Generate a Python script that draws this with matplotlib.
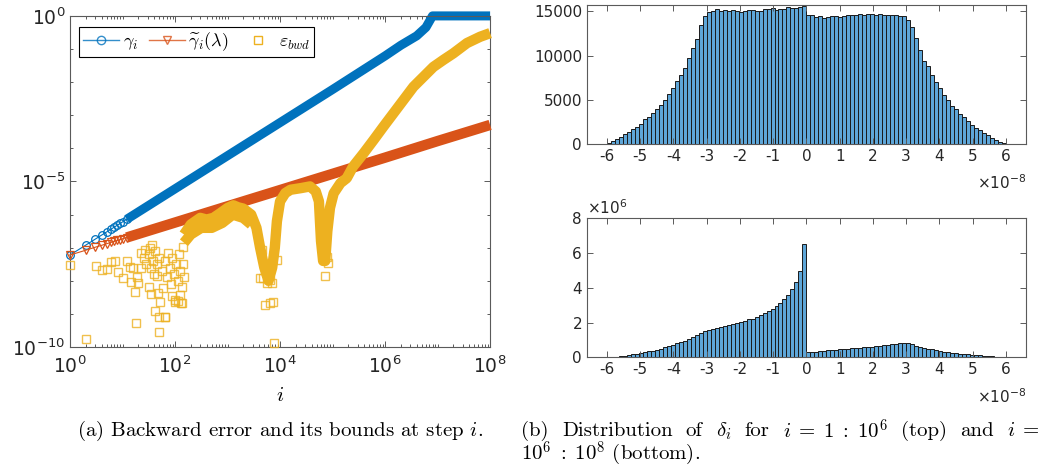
"""
Backward error bounds (left) and distribution of delta_i (right).
"""

import numpy as np
import matplotlib

matplotlib.use("Agg")
import matplotlib.pyplot as plt
from matplotlib.lines import Line2D
from matplotlib.ticker import FixedLocator, FuncFormatter, LogLocator, NullFormatter

plt.rcParams["font.family"] = ["DejaVu Sans"]
plt.rcParams["mathtext.fontset"] = "cm"
plt.rcParams["axes.unicode_minus"] = False

BLUE = "#0072BD"
RED = "#D95319"
YELLOW = "#EDB120"
HIST_FACE = "#5EA6D8"
TEXT = "#262626"
SPINE = "#5a5a5a"

# ---- left panel: gamma_i, gamma~_i(lambda), eps_bwd -----------------------
gamma_i_low = [1, 2, 3, 4, 5, 6, 7, 8, 9, 10, 12]
gamma_low = [6.0e-8, 1.2e-7, 1.8e-7, 2.4e-7, 3.0e-7, 3.6e-7, 4.2e-7, 4.8e-7,
             5.4e-7, 6.0e-7, 7.2e-7]
gamma_i_band = [12, 1e2, 1e3, 1e4, 1e5, 1e6, 2e6, 4e6, 6e6, 8e6, 1e8]
gamma_band = [7.2e-7, 6.0e-6, 6.0e-5, 6.0e-4, 6.0e-3, 0.062, 0.13, 0.25, 0.45, 1.0, 1.0]

gtil_i_low = [1, 2, 3, 4, 5, 6, 7, 8, 9, 10, 12]
gtil_low = [6.0e-8, 8.4e-8, 1.03e-7, 1.18e-7, 1.32e-7, 1.44e-7, 1.55e-7, 1.66e-7,
            1.76e-7, 1.86e-7, 2.03e-7]
gtil_i_band = [12, 1e2, 1e3, 1e4, 1e5, 1e6, 1e7, 1e8]
gtil_band = [2.03e-7, 5.75e-7, 1.78e-6, 5.5e-6, 1.7e-5, 5.25e-5, 1.66e-4, 5.1e-4]

# scattered eps_bwd squares (log10 i, log10 eps)
eps_pts_logi = [0.0, 0.3, 0.49, 0.6, 0.7, 0.79, 0.85, 0.92, 1.0, 1.08, 1.14, 1.16,
                1.2, 1.25, 1.23, 1.3, 1.36, 1.43, 1.52, 1.68, 1.7, 1.72, 1.81, 1.78,
                1.87, 2.0, 2.09, 2.12, 2.16, 1.4, 1.45, 1.5, 1.55, 1.58, 1.6, 1.62,
                1.65, 1.7, 1.75, 1.8, 1.85, 1.9, 1.93, 1.95, 1.98, 2.02, 2.05, 2.08,
                2.1, 2.13, 2.15, 2.18, 1.55, 1.62, 1.5, 1.35, 1.28, 1.95, 2.05, 1.56,
                1.65, 1.7, 1.81, 2.0, 2.13,
                3.65, 3.68, 3.75, 3.81, 3.84, 3.71, 3.81, 3.87, 3.89, 3.62, 3.94,
                4.86, 4.92, 4.83, 4.89]
eps_pts_logy = [-7.52, -9.76, -7.54, -7.67, -7.64, -7.42, -7.40, -7.72, -7.92, -7.40,
                -7.57, -8.03, -7.62, -9.28, -8.35, -8.08, -7.17, -7.07, -7.02, -8.38,
                -9.56, -8.63, -9.08, -8.23, -7.17, -8.63, -8.43, -8.66, -6.97, -7.3,
                -7.5, -7.2, -7.6, -7.4, -7.8, -7.1, -7.5, -7.3, -7.7, -7.4, -7.9,
                -7.6, -8.1, -7.3, -7.8, -7.5, -8.0, -7.2, -7.7, -8.2, -7.5, -7.9,
                -8.4, -8.9, -8.2, -7.6, -7.9, -8.45, -8.6, -6.92, -7.87, -9.08,
                -9.08, -8.58, -8.68,
                -7.07, -7.92, -8.08, -7.98, -8.08, -8.73, -8.68, -8.63, -9.89, -7.92,
                -7.37, -7.87, -7.47, -6.97, -7.27]

# dense part of eps_bwd, upper edge (log10 i, log10 eps)
eps_band_logi = [2.17, 2.3, 2.48, 2.6, 2.73, 2.86, 3.0, 3.11, 3.2, 3.3, 3.45, 3.55,
                 3.62, 3.7, 3.78, 3.85, 3.9, 3.94, 4.0, 4.1, 4.2, 4.4, 4.57, 4.68,
                 4.74, 4.78, 4.82, 4.86, 4.9, 4.95, 5.02, 5.15, 5.27, 5.39, 5.59,
                 5.78, 5.97, 6.16, 6.35, 6.54, 6.73, 6.92, 7.11, 7.3, 7.56, 7.81, 8.0]
eps_band_logy = [-6.6, -6.3, -6.1, -6.15, -6.1, -5.96, -5.8, -5.72, -5.78, -5.82,
                 -6.0, -6.4, -7.0, -7.6, -8.0, -7.6, -7.0, -6.2, -5.6, -5.35, -5.25,
                 -5.2, -5.15, -5.3, -5.6, -6.8, -7.4, -7.4, -6.5, -5.8, -5.36, -5.05,
                 -4.9, -4.55, -4.15, -3.75, -3.34, -2.94, -2.54, -2.14, -1.84, -1.54,
                 -1.33, -1.13, -0.82, -0.63, -0.52]
# lower edge of the dense part between 10^2 and 10^3.5
eps_low_logi = [2.17, 2.3, 2.5, 2.7, 2.9, 3.1, 3.3, 3.45]
eps_low_logy = [-6.85, -6.6, -6.4, -6.4, -6.25, -6.0, -6.1, -6.3]

# ---- right panels: histograms of delta_i (x in units of 1e-8) --------------
bin_edges = np.linspace(-6, 6, 101)
counts_top = [150, 340, 560, 830, 1090, 1390, 1690, 1990, 2330, 2820,
              3010, 3570, 4020, 4470, 5000, 5680, 6320, 7180, 7820, 8650,
              9700, 10860, 11920, 13460, 14440, 14920, 15080, 15230, 15040, 15150,
              15000, 15110, 15000, 14960, 15080, 15110, 15110, 15080, 15000, 15260,
              15230, 15340, 15150, 15260, 15230, 15490, 15340, 15410, 15530, 15640,
              14590, 14550, 14360, 14510, 14290, 14400, 14440, 14440, 14400, 14440,
              14550, 14550, 14590, 14740, 14590, 14740, 14660, 14590, 14700, 14590,
              14590, 14590, 14550, 14510, 14510, 13980, 13230, 12030, 10600, 9400,
              8870, 7820, 7070, 6350, 5530, 5040, 4360, 3980, 3460, 3010,
              2630, 2180, 1840, 1580, 1280, 1020, 750, 490, 260, 80]
counts_bottom_M = [0.01, 0.02, 0.04, 0.07, 0.10, 0.13, 0.17, 0.21, 0.25, 0.29,
                   0.34, 0.39, 0.44, 0.50, 0.57, 0.64, 0.72, 0.80, 0.88, 0.96,
                   1.05, 1.15, 1.28, 1.40, 1.52, 1.58, 1.65, 1.70, 1.75, 1.80,
                   1.85, 1.90, 1.96, 2.03, 2.11, 2.19, 2.23, 2.32, 2.42, 2.53,
                   2.65, 2.78, 2.94, 3.15, 3.34, 3.57, 3.92, 4.32, 4.97, 6.55,
                   0.29, 0.31, 0.33, 0.35, 0.36, 0.40, 0.42, 0.44, 0.46, 0.48,
                   0.49, 0.51, 0.53, 0.55, 0.57, 0.58, 0.60, 0.63, 0.65, 0.69,
                   0.71, 0.75, 0.77, 0.81, 0.83, 0.83, 0.75, 0.67, 0.60, 0.54,
                   0.50, 0.46, 0.42, 0.36, 0.33, 0.29, 0.27, 0.23, 0.21, 0.19,
                   0.17, 0.15, 0.13, 0.12, 0.10, 0.08, 0.06, 0.04, 0.02, 0.01]
hist_xticks = [-6, -5, -4, -3, -2, -1, 0, 1, 2, 3, 4, 5, 6]


def style_axes(ax, labelsize):
    for sp in ax.spines.values():
        sp.set_color(SPINE)
        sp.set_linewidth(0.8)
    ax.tick_params(which="both", direction="in", top=True, right=True,
                   colors=SPINE, labelcolor=TEXT, labelsize=labelsize, width=0.7)
    ax.tick_params(which="major", length=4)
    ax.tick_params(which="minor", length=2.5)


def log_label(v, _):
    return r"$\mathregular{10^{%d}}$" % int(round(np.log10(v)))


fig = plt.figure(figsize=(10.45, 4.68), dpi=100)

# left panel
ax = fig.add_axes([0.067, 0.2585, 0.402, 0.7075])
ax.set_xscale("log")
ax.set_yscale("log")
ax.plot(gamma_i_band, gamma_band, "-", color=BLUE, lw=6.5,
        solid_capstyle="butt", clip_on=False, zorder=2)
ax.plot(gamma_i_low, gamma_low, "-", color=BLUE, lw=0.8, marker="o", ms=5.5,
        mfc="none", mew=0.9, clip_on=False, zorder=2)
ax.plot(gtil_i_band, gtil_band, "-", color=RED, lw=7.5,
        solid_capstyle="butt", clip_on=False, zorder=3)
ax.plot(gtil_i_low, gtil_low, "-", color=RED, lw=0.8, marker="v", ms=5.5,
        mfc="none", mew=0.9, clip_on=False, zorder=3)
ax.plot(10.0 ** np.array(eps_low_logi), 10.0 ** np.array(eps_low_logy), "-",
        color=YELLOW, lw=7.5, solid_capstyle="butt", solid_joinstyle="round",
        clip_on=False, zorder=4)
ax.plot(10.0 ** np.array(eps_band_logi), 10.0 ** np.array(eps_band_logy), "-",
        color=YELLOW, lw=7.5, solid_capstyle="butt", solid_joinstyle="round",
        clip_on=False, zorder=4)
ax.plot(10.0 ** np.array(eps_pts_logi), 10.0 ** np.array(eps_pts_logy), "s",
        color=YELLOW, ms=5.5, mfc="none", mew=1.0, alpha=0.8, clip_on=False,
        zorder=4)
ax.set_xlim(1, 1e8)
ax.set_ylim(1e-10, 1)
ax.xaxis.set_major_locator(FixedLocator([1e0, 1e2, 1e4, 1e6, 1e8]))
ax.xaxis.set_minor_locator(LogLocator(base=10, subs=np.arange(1, 10), numticks=100))
ax.xaxis.set_minor_formatter(NullFormatter())
ax.xaxis.set_major_formatter(FuncFormatter(log_label))
ax.yaxis.set_major_locator(FixedLocator([1e-10, 1e-5, 1e0]))
ax.yaxis.set_minor_locator(LogLocator(base=10, subs=(1.0,), numticks=100))
ax.yaxis.set_minor_formatter(NullFormatter())
ax.yaxis.set_major_formatter(FuncFormatter(log_label))
style_axes(ax, 13.5)
ax.tick_params(axis="x", pad=6)
ax.set_xlabel(r"$i$", fontsize=15, labelpad=6)

handles = [
    Line2D([], [], color=BLUE, lw=1.0, marker="o", ms=6, mfc="none", alpha=0.8),
    Line2D([], [], color=RED, lw=1.0, marker="v", ms=6, mfc="none", alpha=0.8),
    Line2D([], [], color=YELLOW, ls="none", marker="s", ms=6, mfc="none"),
]
labels = [r"$\gamma_i$", r"$\widetilde{\gamma}_i(\lambda)$", r"$\varepsilon_{bwd}$"]
leg = ax.legend(handles, labels, loc="upper left", bbox_to_anchor=(0.022, 0.966),
                ncol=3, fontsize=13, frameon=True, fancybox=False,
                edgecolor="black", framealpha=1, borderpad=0.2,
                handlelength=2.0, handletextpad=0.2, columnspacing=0.6,
                borderaxespad=0)
leg.get_frame().set_linewidth(0.8)

# right top histogram
ax1 = fig.add_axes([0.5617, 0.692, 0.420, 0.297])
ax1.bar(bin_edges[:-1], counts_top, width=np.diff(bin_edges), align="edge",
        color=HIST_FACE, edgecolor="#1a1a1a", linewidth=0.7)
ax1.set_xlim(-6.6, 6.6)
ax1.set_ylim(0, 15700)
ax1.set_xticks(hist_xticks)
ax1.set_yticks([0, 5000, 10000, 15000])
style_axes(ax1, 11)
ax1.text(1.0, -0.28, r"$\mathregular{\times10^{-8}}$", transform=ax1.transAxes,
         ha="right", va="center", fontsize=11, color=TEXT)

# right bottom histogram
ax2 = fig.add_axes([0.5617, 0.2365, 0.420, 0.297])
ax2.bar(bin_edges[:-1], counts_bottom_M, width=np.diff(bin_edges), align="edge",
        color=HIST_FACE, edgecolor="#1a1a1a", linewidth=0.7)
ax2.set_xlim(-6.6, 6.6)
ax2.set_ylim(0, 8)
ax2.set_xticks(hist_xticks)
ax2.set_yticks([0, 2, 4, 6, 8])
style_axes(ax2, 11)
ax2.text(0.0, 1.01, r"$\mathregular{\times10^{6}}$", transform=ax2.transAxes,
         ha="left", va="bottom", fontsize=11, color=TEXT)
ax2.text(1.0, -0.28, r"$\mathregular{\times10^{-8}}$", transform=ax2.transAxes,
         ha="right", va="center", fontsize=11, color=TEXT)

# captions
cap = dict(family="cmr10", fontsize=15, va="center")
fig.text(280 / 1045, 1 - 431 / 468, r"(a) Backward error and its bounds at step $i$.",
         ha="center", **cap)

# caption (b), first line justified between x = 521 and x = 1040 px
words = ["(b)", "Distribution", "of", r"$\delta_i$", "for",
         r"$i\;=\;1\;:\;10^6$", "(top)", "and", r"$i\;=$"]
line_left, line_right = 521, 1040
renderer = fig.canvas.get_renderer()
word_texts = [fig.text(0, 1 - 431 / 468, w, ha="left", **cap) for w in words]
widths = [t.get_window_extent(renderer).width for t in word_texts]
gap = (line_right - line_left - sum(widths)) / (len(words) - 1)
x = line_left
for t, w in zip(word_texts, widths):
    t.set_x(x / 1045)
    x += w + gap
fig.text(521 / 1045, 1 - 454 / 468, r"$10^6\;:\;10^8$ (bottom).", ha="left", **cap)

fig.savefig("out.png", dpi=100)
plt.close(fig)
